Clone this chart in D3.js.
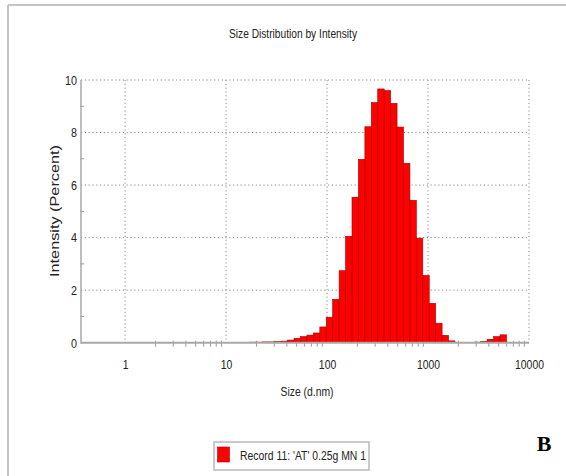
<!DOCTYPE html>
<html>
<head>
<meta charset="utf-8">
<script src="https://cdn.jsdelivr.net/npm/d3@7"></script>
<style>
  body { margin: 0; background: #fff; overflow: hidden; }
  text { font-family: "Liberation Sans Narrow", "Arial Narrow", "Liberation Sans", Arial, sans-serif; }
</style>
</head>
<body>
<div id="chart"></div>
<script>
// --- Data ---
const sizeClasses = [18.17, 21.04, 24.36, 28.21, 32.67, 37.84, 43.82, 50.75, 58.77, 68.06,
  78.82, 91.28, 105.7, 122.4, 141.8, 164.2, 190.1, 220.2, 255.0, 295.3,
  342.0, 396.1, 458.7, 531.2, 615.1, 712.4, 825.0, 955.4, 1106, 1281,
  1484, 1718, 1990, 2305, 2669, 3091, 3580, 4145, 4801, 5560];
const intensity = [0.02, 0.02, 0.03, 0.03, 0.04, 0.06, 0.10, 0.17, 0.23, 0.29,
  0.37, 0.60, 0.97, 1.65, 2.74, 4.05, 5.54, 6.98, 8.22, 9.14,
  9.66, 9.60, 9.11, 8.21, 6.83, 5.42, 3.98, 2.56, 1.50, 0.74,
  0.28, 0.07, 0, 0, 0, 0.02, 0.05, 0.13, 0.23, 0.30];
const xTicks = [1, 10, 100, 1000, 10000];
const yTicks = [0, 2, 4, 6, 8, 10];
const yMinor = [1, 3, 5, 7, 9];
const seriesName = "Record 11: 'AT' 0.25g MN 1";

const W = 566, H = 476;
const classRatio = 1.1581; // Malvern size class step

const svg = d3.select("#chart").append("svg")
  .attr("width", W).attr("height", H);

// --- Outer frame ---
svg.append("line").attr("x1", 8).attr("x2", W).attr("y1", 5).attr("y2", 5)
  .attr("stroke", "#c4c4c4").attr("stroke-width", 2);
svg.append("line").attr("x1", 8).attr("x2", 8).attr("y1", 5).attr("y2", H)
  .attr("stroke", "#c4c4c4").attr("stroke-width", 2);

// --- Scales ---
const x = d3.scaleLog().domain([0.366, 10000]).range([81, 529]);
const y = d3.scaleLinear().domain([0, 10]).range([342.7, 80]);

// --- Grid (dotted) ---
const grid = svg.append("g").attr("stroke", "#8a8a8a").attr("stroke-width", 1)
  .attr("stroke-dasharray", "1.2,2.6");
grid.selectAll(".hg").data(yTicks.filter(d => d > 0)).join("line")
  .attr("x1", x.range()[0]).attr("x2", x.range()[1])
  .attr("y1", d => y(d)).attr("y2", d => y(d));
grid.selectAll(".vg").data(xTicks).join("line")
  .attr("x1", d => x(d)).attr("x2", d => x(d))
  .attr("y1", y(10)).attr("y2", y(0));

// --- Minor ticks ---
const xMinor = [];
[1, 10, 100, 1000].forEach(dec => { for (let m = 2; m <= 9; m++) xMinor.push(dec * m); });
svg.append("g").attr("stroke", "#9a9a9a").attr("stroke-width", 1)
  .selectAll("line").data(xMinor).join("line")
  .attr("x1", d => x(d)).attr("x2", d => x(d))
  .attr("y1", y(0) - 2).attr("y2", y(0) + 4);
svg.append("g").attr("stroke", "#9a9a9a").attr("stroke-width", 1)
  .selectAll("line").data(yMinor).join("line")
  .attr("x1", x.range()[0] - 1).attr("x2", x.range()[0] + 3)
  .attr("y1", d => y(d)).attr("y2", d => y(d));

// --- Bars ---
const half = Math.sqrt(classRatio);
svg.append("g").selectAll("rect")
  .data(sizeClasses.map((s, i) => ({ s, v: intensity[i] })).filter(d => d.v > 0))
  .join("rect")
  .attr("x", d => x(d.s / half))
  .attr("width", d => x(d.s * half) - x(d.s / half))
  .attr("y", d => y(d.v))
  .attr("height", d => y(0) - y(d.v))
  .attr("fill", "#ff0000")
  .attr("stroke", "#9e0000")
  .attr("stroke-width", 0.6);

// --- Axis lines ---
svg.append("line").attr("x1", x.range()[0]).attr("x2", x.range()[1])
  .attr("y1", y(0)).attr("y2", y(0))
  .attr("stroke", "#a8a8a8").attr("stroke-width", 2);
svg.append("line").attr("x1", x.range()[0]).attr("x2", x.range()[0])
  .attr("y1", y(10)).attr("y2", y(0) + 1)
  .attr("stroke", "#a8a8a8").attr("stroke-width", 1.5);

// --- Tick labels (condensed like the source) ---
const xAxis = svg.append("g").attr("transform", `translate(0,${y(0)})`)
  .call(d3.axisBottom(x).tickValues(xTicks).tickSize(0).tickPadding(17)
    .tickFormat(d3.format("d")));
xAxis.select(".domain").remove();
xAxis.selectAll("text").attr("font-size", 13).attr("fill", "#222")
  .attr("transform", "scale(0.8,1)")
  .style("font-family", null);

const yAxis = svg.append("g").attr("transform", `translate(${x.range()[0]},0)`)
  .call(d3.axisLeft(y).tickValues(yTicks).tickSize(0).tickPadding(5));
yAxis.select(".domain").remove();
yAxis.selectAll("text").attr("font-size", 13.5).attr("fill", "#222")
  .attr("transform", "scale(0.8,1)")
  .style("font-family", null);

// --- Titles ---
svg.append("text").attr("x", 293).attr("y", 38).attr("text-anchor", "middle")
  .attr("font-size", 12.5).attr("fill", "#222")
  .attr("textLength", 128).attr("lengthAdjust", "spacingAndGlyphs")
  .text("Size Distribution by Intensity");
svg.append("text").attr("x", 307).attr("y", 396).attr("text-anchor", "middle")
  .attr("font-size", 12.5).attr("fill", "#222")
  .attr("textLength", 53).attr("lengthAdjust", "spacingAndGlyphs")
  .text("Size (d.nm)");
svg.append("text").attr("transform", "translate(59,211) rotate(-90)")
  .attr("text-anchor", "middle").attr("font-size", 13).attr("fill", "#222")
  .attr("textLength", 132).attr("lengthAdjust", "spacingAndGlyphs")
  .text("Intensity (Percent)");

// --- Legend ---
const lg = svg.append("g");
lg.append("rect").attr("x", 214).attr("y", 442).attr("width", 155).attr("height", 28)
  .attr("fill", "#fff").attr("stroke", "#b8b8b8").attr("stroke-width", 1.5);
lg.append("rect").attr("x", 217.5).attr("y", 447).attr("width", 12).attr("height", 15)
  .attr("fill", "#ff0000").attr("stroke", "#b00000").attr("stroke-width", 0.6);
lg.append("text").attr("x", 240).attr("y", 460)
  .attr("font-size", 12.5).attr("fill", "#222")
  .attr("textLength", 126).attr("lengthAdjust", "spacingAndGlyphs")
  .text(seriesName);

// --- Panel letter ---
svg.append("text").attr("x", 544).attr("y", 451).attr("text-anchor", "middle")
  .style("font-family", "'Liberation Serif', 'Times New Roman', serif")
  .attr("font-weight", "bold").attr("font-size", 22).attr("fill", "#000")
  .text("B");
</script>
</body>
</html>
